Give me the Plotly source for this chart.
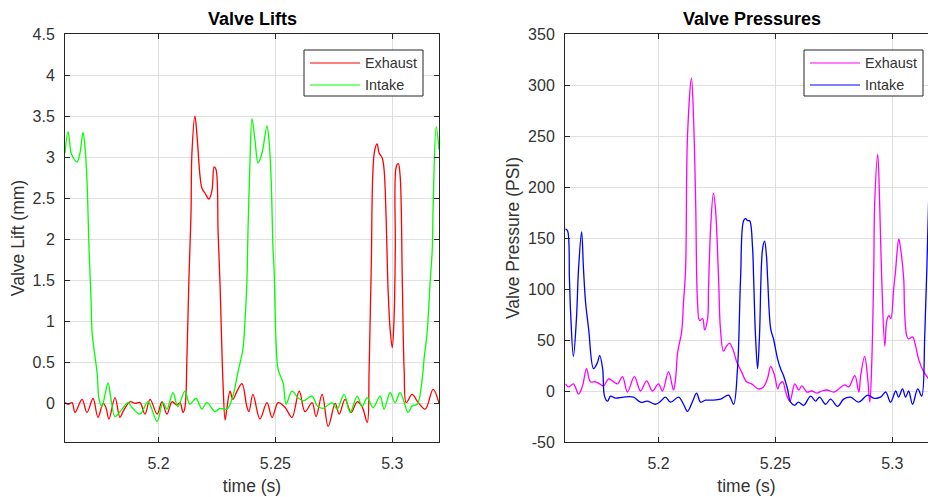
import plotly.graph_objects as go

# ---------------- data ----------------
# Valve lift (mm) against time (s)
lift_exhaust_t = [5.1600, 5.1613, 5.1630, 5.1643, 5.1673, 5.1694, 5.1720, 5.1741, 5.1763, 5.1775,
                  5.1788, 5.1814, 5.1835, 5.1848, 5.1878, 5.1900, 5.1921, 5.1942, 5.1964, 5.1994,
                  5.2015, 5.2036, 5.2058, 5.2079, 5.2092, 5.2105, 5.2113, 5.2122, 5.2130, 5.2139,
                  5.2143, 5.2156, 5.2164, 5.2178, 5.2186, 5.2199, 5.2216, 5.2229, 5.2238, 5.2246,
                  5.2255, 5.2263, 5.2276, 5.2285, 5.2293, 5.2306, 5.2318, 5.2336, 5.2357, 5.2378,
                  5.2387, 5.2404, 5.2434, 5.2464, 5.2486, 5.2512, 5.2542, 5.2571, 5.2602, 5.2627,
                  5.2657, 5.2674, 5.2700, 5.2726, 5.2756, 5.2773, 5.2798, 5.2824, 5.2850, 5.2871,
                  5.2893, 5.2901, 5.2910, 5.2923, 5.2935, 5.2944, 5.2957, 5.2965, 5.2974, 5.2982,
                  5.2991, 5.3000, 5.3008, 5.3013, 5.3017, 5.3026, 5.3034, 5.3043, 5.3051, 5.3060,
                  5.3085, 5.3111, 5.3141, 5.3175, 5.3200]
lift_exhaust = [0.01, -0.01, 0.01, -0.11, 0.05, -0.11, 0.06, -0.17, 0.00, -0.05,
                -0.19, 0.07, -0.17, -0.10, 0.02, 0.00, 0.01, -0.13, 0.05, -0.13,
                0.02, -0.13, 0.02, -0.02, 0.01, -0.11, -0.05, 0.60, 1.50, 2.30,
                3.05, 3.50, 3.29, 2.76, 2.62, 2.56, 2.49, 2.60, 2.88, 2.85,
                2.08, 1.47, 0.25, -0.20, -0.05, 0.15, 0.05, 0.15, 0.24, -0.04,
                -0.10, 0.11, -0.19, 0.01, -0.17, 0.01, -0.05, -0.17, 0.15, -0.10,
                0.01, -0.16, 0.11, -0.28, 0.00, -0.13, 0.05, -0.11, 0.02, -0.04,
                -0.23, 0.40, 1.63, 3.05, 3.16, 3.05, 2.99, 2.85, 2.24, 1.40,
                0.90, 0.68, 1.06, 1.87, 2.88, 2.92, 2.76, 1.50, 0.40, 0.01,
                0.11, 0.01, -0.07, 0.17, 0.00]

lift_intake_t = [5.1600, 5.1613, 5.1626, 5.1634, 5.1651, 5.1664, 5.1677, 5.1686, 5.1694, 5.1703,
                 5.1711, 5.1716, 5.1724, 5.1737, 5.1746, 5.1758, 5.1771, 5.1784, 5.1797, 5.1814,
                 5.1844, 5.1870, 5.1887, 5.1921, 5.1955, 5.1994, 5.2019, 5.2036, 5.2062, 5.2083,
                 5.2113, 5.2134, 5.2160, 5.2186, 5.2207, 5.2242, 5.2263, 5.2293, 5.2318, 5.2340,
                 5.2361, 5.2370, 5.2378, 5.2383, 5.2391, 5.2400, 5.2413, 5.2426, 5.2443, 5.2464,
                 5.2473, 5.2482, 5.2490, 5.2494, 5.2503, 5.2512, 5.2533, 5.2546, 5.2571, 5.2597,
                 5.2619, 5.2657, 5.2679, 5.2704, 5.2743, 5.2764, 5.2794, 5.2820, 5.2850, 5.2871,
                 5.2893, 5.2918, 5.2948, 5.2965, 5.2991, 5.3012, 5.3034, 5.3068, 5.3085, 5.3107,
                 5.3128, 5.3136, 5.3149, 5.3162, 5.3171, 5.3175, 5.3188, 5.3200]
lift_intake = [3.05, 3.31, 3.05, 3.00, 2.94, 3.05, 3.30, 3.10, 2.72, 1.87,
               1.30, 0.86, 0.66, 0.38, 0.05, -0.04, 0.10, 0.25, 0.05, -0.16,
               -0.07, 0.01, -0.05, -0.13, 0.02, -0.22, 0.01, -0.07, 0.13, -0.04,
               0.15, -0.01, 0.06, -0.07, 0.01, -0.10, -0.06, -0.07, 0.09, 0.38,
               0.66, 1.00, 1.47, 2.12, 2.90, 3.47, 3.20, 2.93, 3.05, 3.38,
               3.20, 2.72, 1.87, 1.67, 0.74, 0.41, 0.25, -0.01, 0.15, 0.07,
               0.03, 0.09, -0.03, -0.06, 0.01, -0.07, 0.11, -0.11, 0.09, -0.04,
               0.07, -0.05, 0.09, -0.07, 0.13, 0.01, 0.13, -0.11, -0.03, -0.01,
               0.29, 0.54, 0.86, 1.47, 1.87, 2.40, 3.37, 3.09]

# Valve pressure (PSI) against time (s)
press_exhaust_t = [5.1602, 5.1615, 5.1636, 5.1658, 5.1675, 5.1692, 5.1709, 5.1731, 5.1748, 5.1765,
                   5.1786, 5.1808, 5.1825, 5.1846, 5.1867, 5.1897, 5.1923, 5.1949, 5.1974, 5.2000,
                   5.2017, 5.2043, 5.2064, 5.2073, 5.2082, 5.2099, 5.2107, 5.2116, 5.2124, 5.2141,
                   5.2150, 5.2159, 5.2167, 5.2176, 5.2189, 5.2197, 5.2210, 5.2214, 5.2223, 5.2235,
                   5.2244, 5.2257, 5.2265, 5.2278, 5.2291, 5.2304, 5.2321, 5.2334, 5.2355, 5.2377,
                   5.2398, 5.2428, 5.2449, 5.2466, 5.2480, 5.2497, 5.2510, 5.2519, 5.2532, 5.2544,
                   5.2562, 5.2583, 5.2600, 5.2613, 5.2635, 5.2656, 5.2677, 5.2699, 5.2720, 5.2750,
                   5.2771, 5.2797, 5.2814, 5.2840, 5.2857, 5.2865, 5.2882, 5.2895, 5.2904, 5.2912,
                   5.2921, 5.2925, 5.2938, 5.2946, 5.2955, 5.2968, 5.2976, 5.2985, 5.2994, 5.3006,
                   5.3015, 5.3019, 5.3028, 5.3036, 5.3049, 5.3053, 5.3062, 5.3070, 5.3087, 5.3100,
                   5.3113, 5.3134, 5.3156]
press_exhaust = [7, 4, 7, -3, 5, 22, 9, 9, 7, 5,
                 12, 9, 7, 14, -1, 14, 0, 10, 0, 7,
                 0, 19, 1, 12, 38, 58, 87, 120, 250, 307,
                 267, 185, 87, 69, 71, 60, 71, 100, 160, 194,
                 178, 110, 61, 39, 44, 47, 39, 29, 19, 9,
                 7, 2, 4, 12, 24, 15, 2, 7, 9, -1,
                 -10, 7, 1, 5, -1, 0, -2, 0, 1, -1,
                 2, 6, 4, 15, -1, 15, 34, 12, -11, 25,
                 120, 185, 232, 185, 110, 44, 68, 74, 71, 100,
                 120, 132, 149, 139, 110, 77, 54, 51, 53, 44,
                 31, 19, 12]

press_intake_t = [5.1602, 5.1611, 5.1619, 5.1624, 5.1636, 5.1649, 5.1658, 5.1671, 5.1679, 5.1688,
                  5.1701, 5.1722, 5.1739, 5.1748, 5.1761, 5.1769, 5.1782, 5.1795, 5.1816, 5.1850,
                  5.1893, 5.1923, 5.1953, 5.1987, 5.2009, 5.2030, 5.2052, 5.2086, 5.2107, 5.2124,
                  5.2146, 5.2163, 5.2180, 5.2201, 5.2231, 5.2266, 5.2300, 5.2321, 5.2338, 5.2351,
                  5.2364, 5.2373, 5.2381, 5.2390, 5.2402, 5.2407, 5.2415, 5.2424, 5.2432, 5.2445,
                  5.2454, 5.2462, 5.2467, 5.2480, 5.2492, 5.2510, 5.2522, 5.2535, 5.2552, 5.2565,
                  5.2582, 5.2599, 5.2621, 5.2651, 5.2672, 5.2689, 5.2715, 5.2736, 5.2766, 5.2792,
                  5.2822, 5.2856, 5.2895, 5.2920, 5.2950, 5.2972, 5.2993, 5.3015, 5.3027, 5.3044,
                  5.3057, 5.3070, 5.3087, 5.3109, 5.3126, 5.3139, 5.3148, 5.3156]
press_intake = [159, 157, 110, 77, 34, 71, 120, 156, 120, 87,
                61, 22, 28, 35, 22, -5, -10, -5, -7, -6,
                -6, -11, -10, -13, -10, -6, -11, -6, -13, -20,
                -10, -2, -11, -9, -9, -8, -4, -13, 22, 110,
                167, 169, 167, 167, 142, 110, 54, 22, 54, 139,
                147, 132, 110, 61, 51, 31, 22, 15, 2, -11,
                -14, -11, -14, -5, -10, -6, -13, -8, -15, -8,
                -6, -11, -4, -7, -6, -1, -11, 0, -6, 2,
                -6, 0, -13, 2, -5, 54, 120, 190]

time_ticks = [5.2, 5.25, 5.3]
time_tick_text = ["5.2", "5.25", "5.3"]
lift_ticks = [0, 0.5, 1, 1.5, 2, 2.5, 3, 3.5, 4, 4.5]
lift_tick_text = ["0", "0.5", "1", "1.5", "2", "2.5", "3", "3.5", "4", "4.5"]
press_ticks = [-50, 0, 50, 100, 150, 200, 250, 300, 350]
press_tick_text = ["-50", "0", "50", "100", "150", "200", "250", "300", "350"]

# ---------------- styling ----------------
W, H = 928, 497
FONT = "Liberation Sans, Arial, Helvetica, sans-serif"
AXC = "#262626"
TXC = "#333333"
GRIDC = "#dfdfdf"
PX_PER_S = 2337.5


def fx(p):
    return p / W


def fy(p):
    return 1 - p / H


def line_trace(t, v, name, color, xa, ya):
    return go.Scatter(x=t, y=v, name=name, mode="lines", xaxis=xa, yaxis=ya,
                      showlegend=False,
                      line=dict(color=color, width=1.3, shape="spline", smoothing=1.0))


fig = go.Figure()
fig.add_trace(line_trace(lift_exhaust_t, lift_exhaust, "Exhaust", "#ff0000", "x", "y"))
fig.add_trace(line_trace(lift_intake_t, lift_intake, "Intake", "#00ff00", "x", "y"))
fig.add_trace(line_trace(press_exhaust_t, press_exhaust, "Exhaust", "#ff00ff", "x2", "y2"))
fig.add_trace(line_trace(press_intake_t, press_intake, "Intake", "#0000ff", "x2", "y2"))

tick_font = dict(family=FONT, size=16, color=TXC)
label_font = dict(family=FONT, size=17.5, color=TXC)

common_axis = dict(showline=True, linecolor=AXC, linewidth=1, ticks="inside",
                   ticklen=5, tickwidth=1, tickcolor=AXC, showgrid=True,
                   gridcolor=GRIDC, gridwidth=1, zeroline=False, automargin=False,
                   tickfont=tick_font)

plot_top, plot_bottom = 34, 442
left_x0, left_x1 = 65, 439
right_x0 = 565

fig.update_layout(
    width=W, height=H, autosize=False,
    margin=dict(l=0, r=0, t=0, b=0),
    paper_bgcolor="white", plot_bgcolor="white",
    xaxis=dict(domain=[fx(left_x0), fx(left_x1)], range=[5.16, 5.32], anchor="y",
               tickvals=time_ticks, ticktext=time_tick_text, mirror="ticks",
               ticklabelstandoff=7,
               title=dict(text="time (s)", font=label_font, standoff=8),
               **common_axis),
    yaxis=dict(domain=[fy(plot_bottom), fy(plot_top)], range=[-0.47, 4.5], anchor="x",
               tickvals=lift_ticks, ticktext=lift_tick_text, mirror="ticks",
               ticklabelstandoff=6,
               title=dict(text="Valve Lift (mm)", font=label_font, standoff=3),
               **common_axis),
    xaxis2=dict(domain=[fx(right_x0), 1.0],
                range=[5.16, 5.16 + (W - right_x0) / PX_PER_S], anchor="y2",
                tickvals=time_ticks, ticktext=time_tick_text, mirror="ticks",
                ticklabelstandoff=7,
                title=dict(text="time (s)", font=label_font, standoff=8),
                **common_axis),
    yaxis2=dict(domain=[fy(plot_bottom), fy(plot_top)], range=[-50, 350], anchor="x2",
                tickvals=press_ticks, ticktext=press_tick_text, mirror=False,
                ticklabelstandoff=6,
                title=dict(text="Valve Pressure (PSI)", font=label_font, standoff=3),
                **common_axis),
)

# subplot titles
title_font = dict(family=FONT, size=18, color="#000000")
for text, cx in [("Valve Lifts", (left_x0 + left_x1) / 2),
                 ("Valve Pressures", (right_x0 + right_x0 + (left_x1 - left_x0)) / 2)]:
    fig.add_annotation(text=f"<b>{text}</b>", x=fx(cx), y=fy(19), xref="paper", yref="paper",
                       xanchor="center", yanchor="middle", showarrow=False, font=title_font)

# boxed legends in the upper-right corner of each axes
legend_font = dict(family=FONT, size=14.4, color=TXC)
for x_off, entries in [(0, [("Exhaust", "#ff0000"), ("Intake", "#00ff00")]),
                       (500, [("Exhaust", "#ff00ff"), ("Intake", "#0000ff")])]:
    bx0, bx1 = 304 + x_off, 423 + x_off
    fig.add_shape(type="rect", xref="paper", yref="paper",
                  x0=fx(bx0), x1=fx(bx1), y0=fy(96), y1=fy(50),
                  line=dict(color=AXC, width=1), fillcolor="white", layer="above")
    for row, (name, color) in enumerate(entries):
        yy = 63 + row * 22
        fig.add_shape(type="line", xref="paper", yref="paper",
                      x0=fx(bx0 + 6), x1=fx(bx0 + 56), y0=fy(yy), y1=fy(yy),
                      line=dict(color=color, width=1.2), layer="above")
        fig.add_annotation(text=name, x=fx(bx0 + 59), y=fy(yy), xref="paper", yref="paper",
                           xanchor="left", yanchor="middle", showarrow=False, font=legend_font)

fig.write_html("out.html")
